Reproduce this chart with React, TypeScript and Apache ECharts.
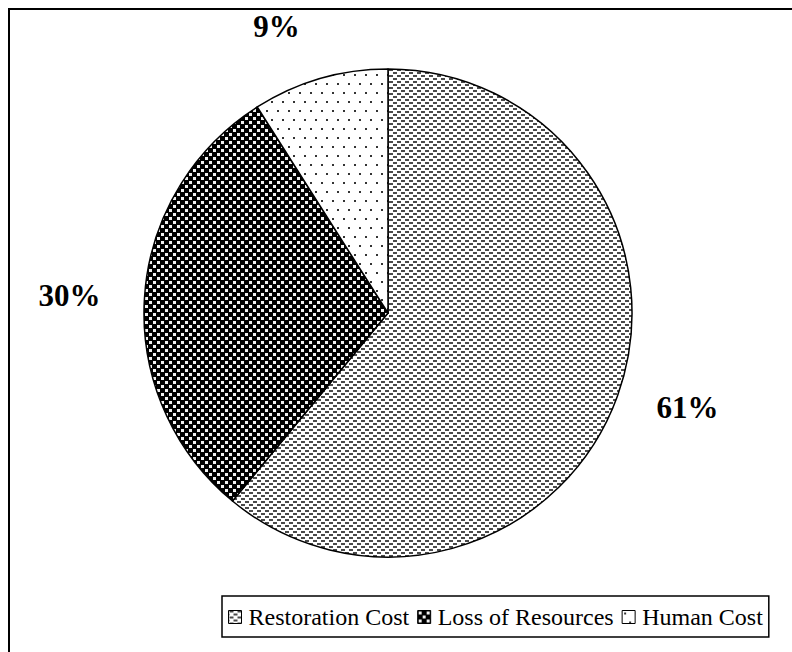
import React, { useEffect, useRef } from "react";
import * as echarts from "echarts";

const categories = ["Restoration Cost", "Loss of Resources", "Human Cost"];
const values = [61, 30, 9];
const labelLengths = [36, 39, 54];

function makePattern(kind: string): any {
  const c = document.createElement("canvas");
  const ctx = c.getContext("2d")!;
  if (kind === "dash") {
    c.width = 8; c.height = 6;
    ctx.fillStyle = "#ffffff"; ctx.fillRect(0, 0, 8, 6);
    ctx.fillStyle = "#4a4a4a";
    ctx.fillRect(1, 0, 4, 2);
    ctx.fillRect(5, 3, 3, 2);
    ctx.fillRect(0, 3, 1, 2);
  } else if (kind === "check") {
    c.width = 8; c.height = 8;
    ctx.fillStyle = "#000000"; ctx.fillRect(0, 0, 8, 8);
    ctx.fillStyle = "#f2f2f2";
    ctx.fillRect(1, 1, 3, 3);
    ctx.fillRect(5, 5, 3, 3);
  } else {
    c.width = 11; c.height = 18;
    ctx.fillStyle = "#ffffff"; ctx.fillRect(0, 0, 11, 18);
    ctx.fillStyle = "#333333";
    ctx.fillRect(2, 2, 2, 2);
    ctx.fillRect(7, 11, 2, 2);
  }
  return { image: c, repeat: "repeat", imageWidth: c.width, imageHeight: c.height };
}

export default function App() {
  const ref = useRef<HTMLDivElement>(null);
  useEffect(() => {
    document.body.style.margin = "0";
    const chart = echarts.init(ref.current!, null, { renderer: "svg" });
    const patterns = [makePattern("dash"), makePattern("check"), makePattern("dot")];
    chart.setOption({
      animation: false,
      backgroundColor: "#ffffff",
      legend: {
        left: 222,
        top: 596,
        width: 560,
        padding: [9, 6, 8, 6],
        borderColor: "#000000",
        borderWidth: 1.5,
        itemWidth: 13,
        itemHeight: 13,
        itemGap: 8,
        icon: "rect",
        data: categories,
        textStyle: { fontFamily: "Liberation Serif", fontSize: 24, color: "#000000", padding: [0, 0, 0, 2] },
        itemStyle: { borderColor: "#000000", borderWidth: 1 },
      },
      graphic: [
        { type: "line", shape: { x1: 9, y1: 8, x2: 9, y2: 652 }, style: { stroke: "#000", lineWidth: 2 } },
        { type: "line", shape: { x1: 8, y1: 9, x2: 792, y2: 9 }, style: { stroke: "#000", lineWidth: 2 } },
      ],
      series: [
        {
          type: "pie",
          center: [388, 313],
          radius: 244,
          startAngle: 90,
          clockwise: true,
          avoidLabelOverlap: false,
          data: categories.map((name, i) => ({
            name,
            value: values[i],
            itemStyle: { color: patterns[i] },
            labelLine: { show: false, length: labelLengths[i], length2: 0 },
          })),
          itemStyle: { borderColor: "#000000", borderWidth: 1.5 },
          label: {
            show: true,
            position: "outside",
            formatter: (p: any) => p.value + "%",
            fontFamily: "Liberation Serif",
            fontWeight: "bold",
            fontSize: 31,
            color: "#000000",
          },
          labelLine: { show: false, length: 36, length2: 0 },
          emphasis: { disabled: true },
        },
      ],
    });
    return () => chart.dispose();
  }, []);
  return <div ref={ref} style={{ width: 792, height: 652 }} />;
}
